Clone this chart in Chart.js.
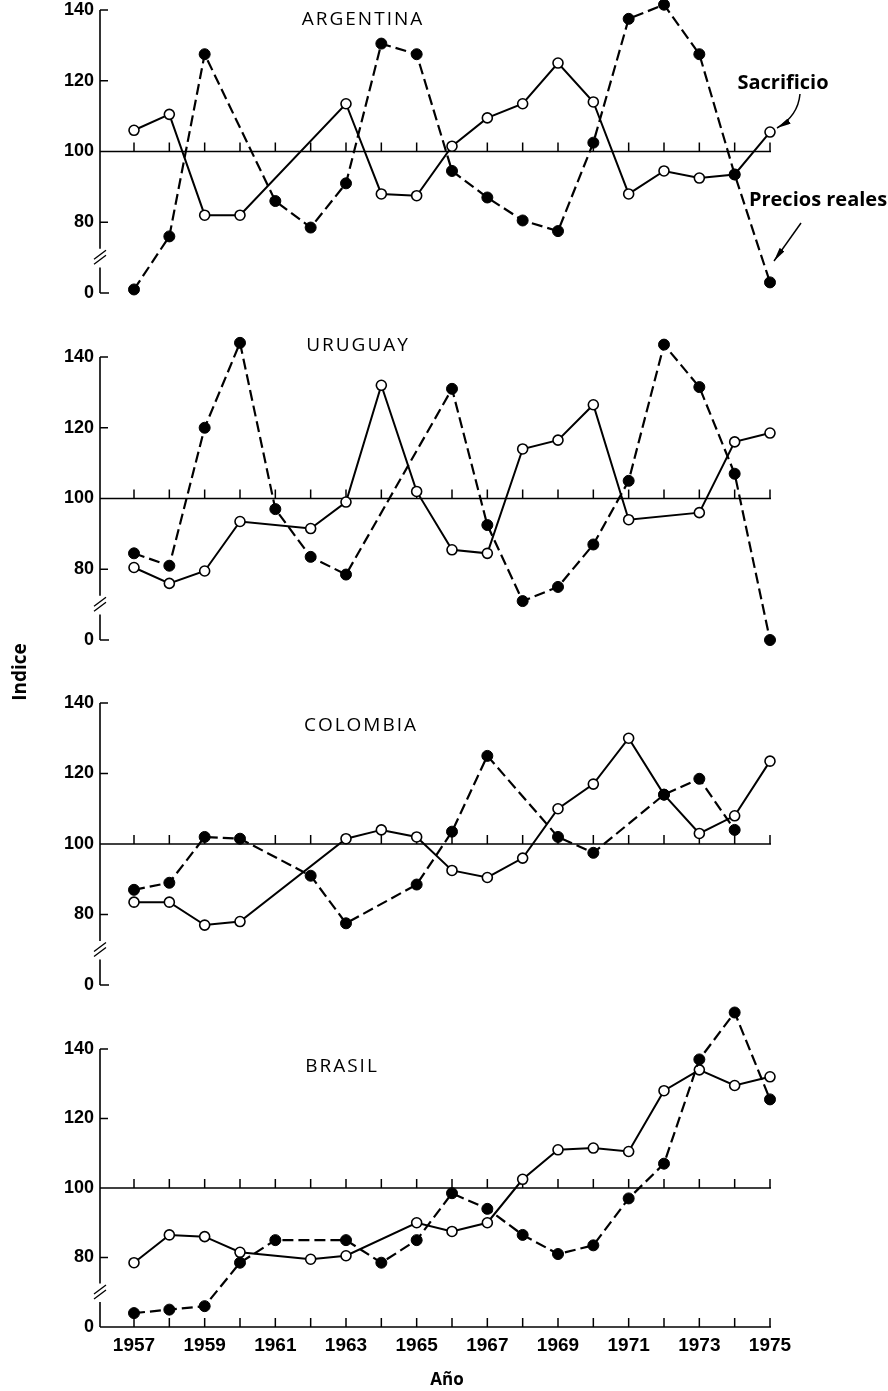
<!DOCTYPE html>
<html><head><meta charset="utf-8">
<script src="https://cdn.jsdelivr.net/npm/chart.js@4.4.1/dist/chart.umd.min.js"></script>
<style>
html,body{margin:0;padding:0;background:#fff;}
body{width:888px;height:1391px;overflow:hidden;position:relative;}
canvas{position:absolute;left:0;}
.t{position:absolute;transform:translate(-50%,-50%);white-space:nowrap;color:#000;font-family:"Open Sans",sans-serif;z-index:5;}
.title{font-size:19px;letter-spacing:2px;}
.lab{font-weight:bold;font-size:20px;}
</style></head>
<body>
<canvas id="c0"></canvas>
<canvas id="c1"></canvas>
<canvas id="c2"></canvas>
<canvas id="c3"></canvas>

<div class="t title" style="left:363px;top:18px">ARGENTINA</div>
<div class="t title" style="left:358px;top:344px">URUGUAY</div>
<div class="t title" style="left:361px;top:724px">COLOMBIA</div>
<div class="t title" style="left:342px;top:1065px">BRASIL</div>
<div class="t lab" style="left:783px;top:81px">Sacrificio</div>
<div class="t lab" style="left:818px;top:198px">Precios reales</div>
<div class="t lab" style="left:19px;top:672px;font-size:19px;transform:translate(-50%,-50%) rotate(-90deg)">Indice</div>
<div class="t lab" style="left:447px;top:1378px;font-size:17px">Año</div>

<svg width="888" height="1391" style="position:absolute;left:0;top:0;z-index:4;pointer-events:none">
<defs><marker id="ah" viewBox="0 0 14 6" refX="14" refY="3" markerWidth="14" markerHeight="6" orient="auto" markerUnits="userSpaceOnUse"><path d="M0,0 L14,3 L0,6 z" fill="#000"/></marker></defs>
<path d="M800,94 Q798,116 777,128" fill="none" stroke="#000" stroke-width="1.5" marker-end="url(#ah)"/>
<path d="M801,223 L774,261" fill="none" stroke="#000" stroke-width="1.5" marker-end="url(#ah)"/>
</svg>

<script>
// ---- data (null = no point plotted) ----
const years = [1957,1958,1959,1960,1961,1962,1963,1964,1965,1966,1967,1968,1969,1970,1971,1972,1973,1974,1975];
const xTickYears = [1957,1959,1961,1963,1965,1967,1969,1971,1973,1975];
const yTickValues = [0,80,100,120,140];
const countries = ['ARGENTINA','URUGUAY','COLOMBIA','BRASIL'];
const seriesNames = ['Sacrificio','Precios reales'];

const argSacrificio = [106,110.5,82,82,null,null,113.5,88,87.5,101.5,109.5,113.5,125,114,88,94.5,92.5,93.5,105.5];
const argPrecios    = [1,76,127.5,null,86,78.5,91,130.5,127.5,94.5,87,80.5,77.5,102.5,137.5,141.5,127.5,93.5,3];

const uruSacrificio = [80.5,76,79.5,93.5,null,91.5,99,132,102,85.5,84.5,114,116.5,126.5,94,null,96,116,118.5];
const uruPrecios    = [84.5,81,120,144,97,83.5,78.5,null,null,131,92.5,71,75,87,105,143.5,131.5,107,0];

const colSacrificio = [83.5,83.5,77,78,null,null,101.5,104,102,92.5,90.5,96,110,117,130,114,103,108,123.5];
const colPrecios    = [87,89,102,101.5,null,91,77.5,null,88.5,103.5,125,null,102,97.5,null,114,118.5,104,null];

const braSacrificio = [78.5,86.5,86,81.5,null,79.5,80.5,null,90,87.5,90,102.5,111,111.5,110.5,128,134,129.5,132];
const braPrecios    = [4,5,6,78.5,85,null,85,78.5,85,98.5,94,86.5,81,83.5,97,107,137,150.5,125.5];

// ---- broken axis: the "0" level is drawn where 60 would sit ----
const BREAK_LEVEL = 60;
const brk = v => (v === null ? null : (v < 40 ? BREAK_LEVEL + v : v));
const yTickPos = yTickValues.map(brk);
const pts = arr => years.map((yr, i) => ({x: yr, y: brk(arr[i])}));

const TICKFONT = '"Liberation Sans","Roboto",sans-serif';

const axisDecor = {
  id: 'axisDecor',
  beforeDatasetsDraw(chart, args, opts) {
    const {ctx, chartArea, scales: {x, y}} = chart;
    const ax = chartArea.left;
    const L = (x1, y1, x2, y2) => { ctx.beginPath(); ctx.moveTo(x1, y1); ctx.lineTo(x2, y2); ctx.stroke(); };
    ctx.save();
    ctx.strokeStyle = '#000';
    ctx.lineWidth = 1.6;
    // vertical axis with break
    L(ax, y.getPixelForValue(140), ax, y.getPixelForValue(72.5));
    L(ax, y.getPixelForValue(67.2), ax, y.getPixelForValue(60));
    const yc = y.getPixelForValue(69.8);
    ctx.lineWidth = 1.3;
    L(ax - 6, yc + 1, ax + 6, yc - 8);
    L(ax - 6, yc + 6, ax + 6, yc - 3);
    ctx.lineWidth = 1.5;
    [140, 120, 80].forEach(v => { const p = y.getPixelForValue(v); L(ax, p, ax + 8, p); });
    // reference line at 100
    const xEnd = x.getPixelForValue(years[years.length - 1]);
    const p100 = y.getPixelForValue(100);
    L(ax, p100, xEnd + 1, p100);
    years.forEach(yr => { const px = x.getPixelForValue(yr); L(px, p100, px, p100 - 9); });
    const p0 = y.getPixelForValue(BREAK_LEVEL);
    if (opts.bottom) {
      L(ax, p0, xEnd + 1, p0);
      years.forEach(yr => { const px = x.getPixelForValue(yr); L(px, p0, px, p0 - 9); });
    } else {
      L(ax, p0, ax + 9, p0);
    }
    ctx.restore();
  }
};

function makeChart(id, top, y140px, y60px, sac, pre, bottom) {
  const k = (y60px - y140px) / 80;
  const padTop = 20, padBot = bottom ? 10 : 20, xH = bottom ? 30 : 0;
  const yMax = 140 + (y140px - (top + padTop)) / k;
  const H = Math.round(y60px + padBot + xH - top);
  const cv = document.getElementById(id);
  cv.width = 888; cv.height = H;
  cv.style.width = '888px'; cv.style.height = H + 'px'; cv.style.top = top + 'px';
  // x mapping: 1957 at 134px, 1975 at 770px, axis at 100px
  const pxPerYear = (770 - 134) / 18;
  const xMin = 1957 - (134 - 100) / pxPerYear;
  const xMax = 1957 + (800 - 134) / pxPerYear;
  return new Chart(cv, {
    type: 'line',
    data: {
      datasets: [
        {
          label: seriesNames[1], data: pts(pre),
          borderColor: '#000', borderWidth: 2.2, borderDash: [11, 5],
          pointRadius: 5.5, pointBackgroundColor: '#000', pointBorderColor: '#000', pointBorderWidth: 1,
          spanGaps: true, tension: 0, clip: false, fill: false
        },
        {
          label: seriesNames[0], data: pts(sac),
          borderColor: '#000', borderWidth: 2,
          pointRadius: 5, pointBackgroundColor: '#fff', pointBorderColor: '#000', pointBorderWidth: 1.6,
          spanGaps: true, tension: 0, clip: false, fill: false
        }
      ]
    },
    options: {
      responsive: false, animation: false, devicePixelRatio: 1,
      layout: {padding: {top: padTop, bottom: padBot, left: 0, right: 88}},
      plugins: {legend: {display: false}, tooltip: {enabled: false}, axisDecor: {bottom}},
      scales: {
        x: {
          type: 'linear', min: xMin, max: xMax, display: bottom,
          afterBuildTicks: s => { s.ticks = xTickYears.map(v => ({value: v})); },
          afterFit: s => { s.height = xH; },
          grid: {display: false, drawTicks: false}, border: {display: false},
          ticks: {padding: 7, color: '#000', autoSkip: false, maxRotation: 0,
                  font: {family: TICKFONT, size: 19, weight: 'bold'},
                  callback: v => String(v)}
        },
        y: {
          type: 'linear', min: BREAK_LEVEL, max: yMax,
          afterBuildTicks: s => { s.ticks = yTickPos.map(v => ({value: v})); },
          afterFit: s => { s.width = 100; },
          grid: {display: false, drawTicks: false}, border: {display: false},
          ticks: {padding: 6, color: '#000',
                  font: {family: TICKFONT, size: 18, weight: 'bold'},
                  callback: v => String(yTickValues[yTickPos.indexOf(v)])}
        }
      }
    },
    plugins: [axisDecor]
  });
}

makeChart('c0', -35, 10, 293, argSacrificio, argPrecios, false);
makeChart('c1', 315, 357, 640, uruSacrificio, uruPrecios, false);
makeChart('c2', 660, 703, 985, colSacrificio, colPrecios, false);
makeChart('c3', 980, 1049, 1327, braSacrificio, braPrecios, true);
</script>
</body></html>
